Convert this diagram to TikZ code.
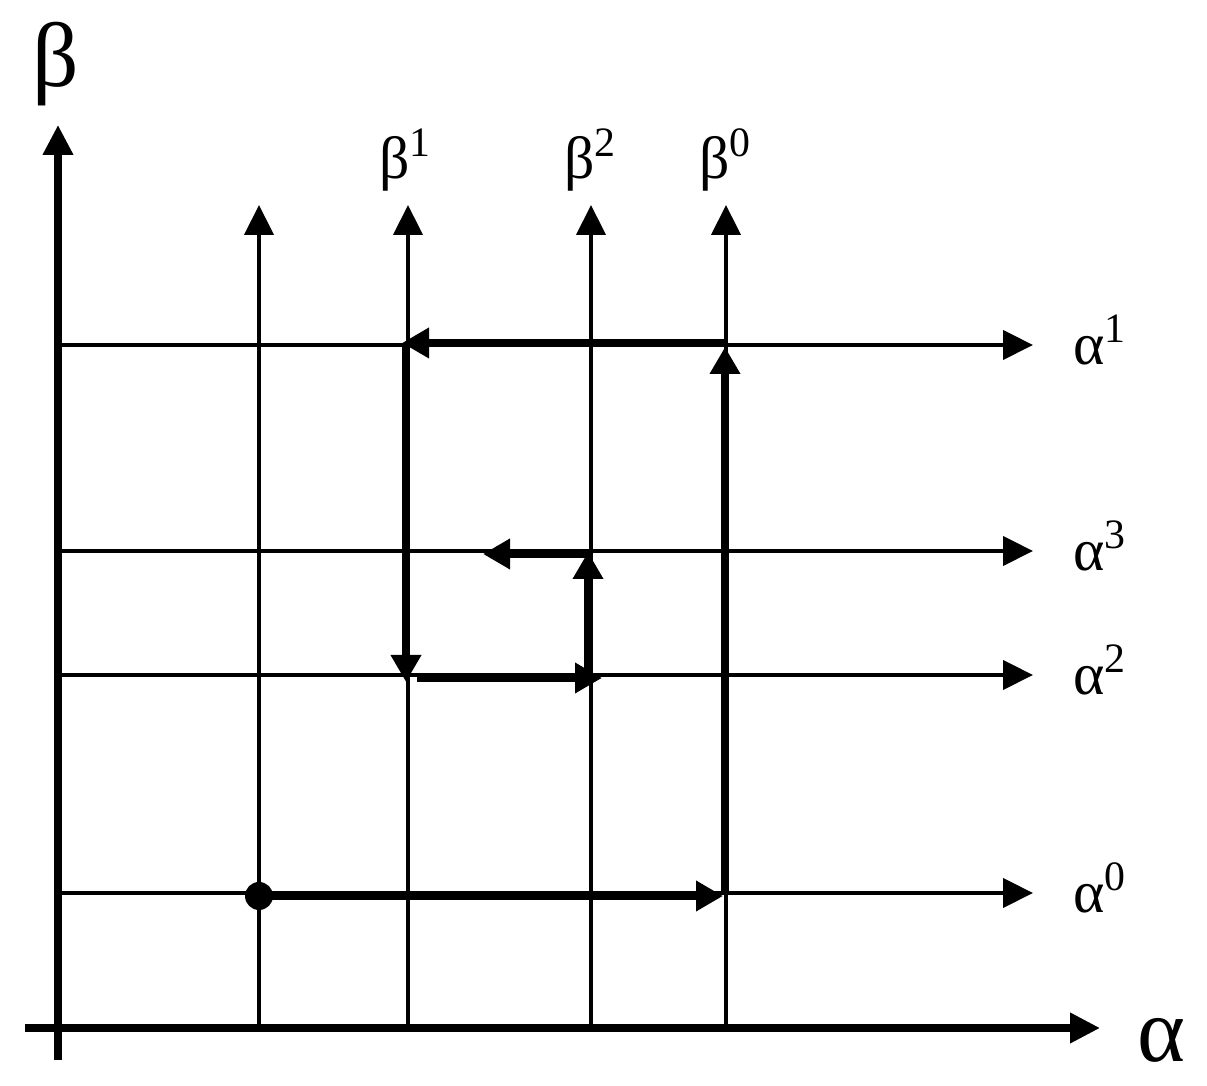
\documentclass[tikz,border=0pt]{standalone}
\usepackage{fontspec}
\setmainfont{Liberation Serif}
\usetikzlibrary{arrows.meta}

\begin{document}
\begin{tikzpicture}[>={Triangle[length=3mm,width=2.9mm]}]
    \useasboundingbox (0,0) rectangle (12.07,10.86);
    % axes
    \coordinate (Xs) at (0.25,0.58);
    \coordinate (Xe) at (11.00,0.58);
    \coordinate (Ys) at (0.58,0.26);
    \coordinate (Ye) at (0.58,9.61);
    \draw[line width=2pt,->] (Xs) -- (Xe);
    \draw[line width=2pt,->] (Ys) -- (Ye);
    \node[font=\fontsize{26}{30}\selectfont] (alpha) at (11.61,0.46) {α};
    \node[font=\fontsize{26}{30}\selectfont] (beta) at (0.56,10.22) {β};
    % vertical lines
    \coordinate (B) at (2.59,0.58);  \coordinate (Bt) at (2.59,8.81);
    \coordinate (B1) at (4.08,0.58); \coordinate (B1t) at (4.08,8.81);
    \coordinate (B2) at (5.91,0.58); \coordinate (B2t) at (5.91,8.81);
    \coordinate (B0) at (7.26,0.58); \coordinate (B0t) at (7.26,8.81);
    % horizontal lines
    \coordinate (A0) at (0.58,1.93); \coordinate (A0t) at (10.33,1.93);
    \coordinate (A2) at (0.58,4.11); \coordinate (A2t) at (10.33,4.11);
    \coordinate (A3) at (0.58,5.35); \coordinate (A3t) at (10.33,5.35);
    \coordinate (A1) at (0.58,7.41); \coordinate (A1t) at (10.33,7.41);
    \begin{scope}[every edge/.style={draw=black,line width=1.2pt,->}]
        \draw (B) edge (Bt);
        \draw (B1) edge (B1t);
        \draw (B2) edge (B2t);
        \draw (B0) edge (B0t);
        \draw (A0) edge (A0t);
        \draw (A2) edge (A2t);
        \draw (A3) edge (A3t);
        \draw (A1) edge (A1t);
    \end{scope}
    \begin{scope}[every node/.style={font=\fontsize{17}{20}\selectfont}]
        \node (b1) at (4.06,9.26) {β\textsuperscript{1}};
        \node (b2) at (5.91,9.26) {β\textsuperscript{2}};
        \node (b0) at (7.26,9.26) {β\textsuperscript{0}};
        \node (a1) at (11.00,7.46) {α\textsuperscript{1}};
        \node (a3) at (11.00,5.40) {α\textsuperscript{3}};
        \node (a2) at (11.00,4.16) {α\textsuperscript{2}};
        \node (a0) at (11.00,1.98) {α\textsuperscript{0}};
    \end{scope}
    % path
    \coordinate (P0) at (2.59,1.90);
    \coordinate (P1) at (7.23,1.90);
    \coordinate (P2) at (7.25,1.93);
    \coordinate (P3) at (7.25,7.39);
    \coordinate (P4) at (7.25,7.43);
    \coordinate (P5) at (4.02,7.43);
    \coordinate (P6) at (4.06,7.43);
    \coordinate (P7) at (4.06,4.04);
    \coordinate (P8) at (4.17,4.08);
    \coordinate (P9) at (6.02,4.08);
    \coordinate (P10) at (5.88,4.08);
    \coordinate (P11) at (5.88,5.34);
    \coordinate (P12) at (5.90,5.32);
    \coordinate (P13) at (4.83,5.32);
    \fill (P0) circle (0.14);
    \begin{scope}[every edge/.style={draw=black,line width=2.2pt,-{Triangle[length=2.7mm,width=2.9mm]}}]
        \draw (P0) edge (P1);
        \draw (P2) edge (P3);
        \draw (P4) edge (P5);
        \draw (P6) edge (P7);
        \draw (P8) edge (P9);
        \draw (P10) edge (P11);
        \draw (P12) edge (P13);
    \end{scope}
\end{tikzpicture}
\end{document}
